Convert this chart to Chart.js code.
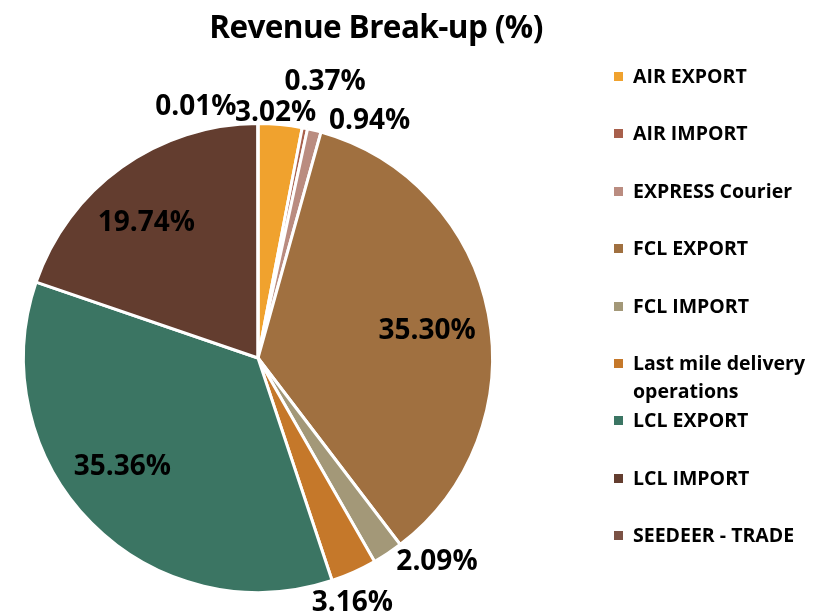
<!DOCTYPE html>
<html>
<head>
<meta charset="utf-8">
<script src="https://cdn.jsdelivr.net/npm/chart.js@4"></script>
<style>
  body { margin: 0; background: #fff; font-family: "Open Sans", sans-serif; }
  #wrap { position: relative; width: 826px; height: 616px; }
  #title { position: absolute; left: 0; width: 752px; top: 4px; text-align: center;
           font-weight: 700; font-size: 31.5px; color: #000; letter-spacing: -0.6px; }
  #legend { position: absolute; left: 614px; top: 62px; }
  .item { height: 57.4px; display: flex; align-items: flex-start; }
  .box { width: 9px; height: 9px; margin-top: 10px; margin-right: 10px; flex: none; }
  .txt { font-weight: 700; font-size: 19.5px; line-height: 28px; width: 190px; color: #000; }
</style>
</head>
<body>
<div id="wrap">
  <canvas id="pieChart" width="826" height="616"></canvas>
  <div id="title">Revenue Break-up (%)</div>
  <div id="legend"></div>
</div>
<script>
// setup
const labels = ["AIR EXPORT", "AIR IMPORT", "EXPRESS Courier", "FCL EXPORT", "FCL IMPORT",
  "Last mile delivery operations", "LCL EXPORT", "LCL IMPORT", "SEEDEER - TRADE"];
const shares = [3.02, 0.37, 0.94, 35.30, 2.09, 3.16, 35.36, 19.74, 0.01];
const colors = ['#F0A22E', '#A8604C', '#BA8C80', '#A07040', '#A39878',
  '#C5782A', '#3B7563', '#633D2F', '#7B5245'];

// label nudges (px) from the default label spot
const nudges = [[-7, 14], [15, -21], [49, 16], [1, 5], [35, -13], [-12, 7], [-14, -12], [-12, 4], [-62, 10]];

const pctLabels = {
  id: 'pctLabels',
  afterDatasetsDraw(chart) {
    const ctx = chart.ctx;
    const arcs = chart.getDatasetMeta(0).data;
    ctx.save();
    ctx.font = 'bold 28px "Open Sans"';
    ctx.fillStyle = '#000';
    ctx.textAlign = 'center';
    ctx.textBaseline = 'middle';
    arcs.forEach((arc, i) => {
      const p = arc.getProps(['x', 'y', 'startAngle', 'endAngle', 'outerRadius']);
      const mid = (p.startAngle + p.endAngle) / 2;
      const r = shares[i] > 10 ? p.outerRadius * 0.73 : p.outerRadius + 26;
      const x = p.x + Math.cos(mid) * r + nudges[i][0];
      const y = p.y + Math.sin(mid) * r + nudges[i][1];
      ctx.fillText(shares[i].toFixed(2) + '%', x, y);
    });
    ctx.restore();
  }
};

const config = {
  type: 'pie',
  data: {
    labels,
    datasets: [{
      data: shares,
      backgroundColor: colors,
      borderColor: '#fff',
      borderWidth: 3
    }]
  },
  options: {
    responsive: false,
    animation: false,
    layout: { padding: { left: 22, right: 332, top: 122, bottom: 22 } },
    plugins: {
      legend: { display: false },
      tooltip: { enabled: false },
      title: { display: false }
    }
  },
  plugins: [pctLabels]
};

const myChart = new Chart(document.getElementById('pieChart'), config);

// legend
const legend = document.getElementById('legend');
labels.forEach((l, i) => {
  const item = document.createElement('div');
  item.className = 'item';
  item.innerHTML = '<span class="box" style="background:' + colors[i] + '"></span><span class="txt">' + l + '</span>';
  legend.appendChild(item);
});
</script>
</body>
</html>
